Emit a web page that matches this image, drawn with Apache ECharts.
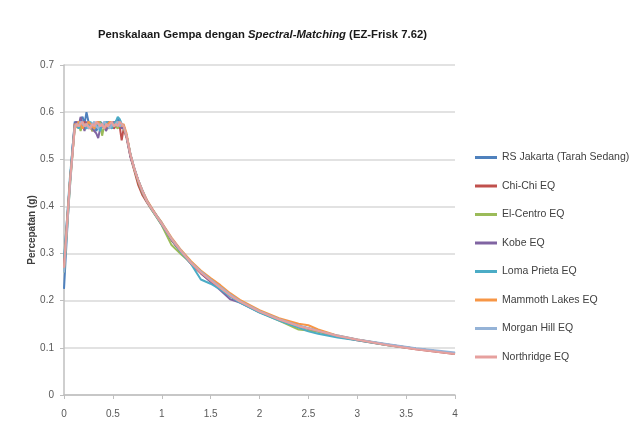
<!DOCTYPE html>
<html>
<head>
<meta charset="utf-8">
<script src="https://cdn.jsdelivr.net/npm/echarts@6/dist/echarts.min.js"></script>
<style>
  html, body { margin: 0; padding: 0; background: #fff; }
  #main { width: 637px; height: 428px; }
</style>
</head>
<body>
<div id="main"></div>
<script>
// periode (detik)
var periods = [0, 0.03, 0.06, 0.09,
  0.11, 0.13, 0.15, 0.17, 0.19, 0.21, 0.23, 0.25, 0.27, 0.29, 0.31, 0.33, 0.35, 0.37, 0.39, 0.41, 0.43, 0.45, 0.47, 0.49, 0.51, 0.53, 0.55, 0.57, 0.59, 0.61,
  0.64, 0.68, 0.72, 0.76, 0.8, 0.85, 0.9, 0.95, 1.0, 1.1, 1.2, 1.3, 1.4, 1.5, 1.6, 1.7, 1.8,
  2.0, 2.2, 2.4, 2.5, 2.6, 2.8, 3.0, 3.3, 3.6, 4.0];

var seriesNames = ['RS Jakarta (Tarah Sedang)', 'Chi-Chi EQ', 'El-Centro EQ', 'Kobe EQ',
  'Loma Prieta EQ', 'Mammoth Lakes EQ', 'Morgan Hill EQ', 'Northridge EQ'];

var rsJakarta = [0.225, 0.34, 0.45, 0.53,
  0.58, 0.575, 0.57, 0.585, 0.59, 0.575, 0.60, 0.58, 0.565, 0.57, 0.575, 0.56, 0.57, 0.58, 0.575, 0.565, 0.57, 0.58, 0.575, 0.57, 0.575, 0.58, 0.585, 0.58, 0.575, 0.57,
  0.55, 0.51, 0.48, 0.455, 0.435, 0.41, 0.395, 0.38, 0.365, 0.33, 0.302, 0.28, 0.26, 0.243, 0.227, 0.211, 0.198,
  0.177, 0.161, 0.147, 0.141, 0.136, 0.125, 0.117, 0.107, 0.098, 0.088];

var chiChi = [0.27, 0.36, 0.45, 0.52,
  0.57, 0.58, 0.565, 0.575, 0.57, 0.58, 0.575, 0.565, 0.57, 0.56, 0.575, 0.57, 0.58, 0.565, 0.57, 0.575, 0.565, 0.57, 0.58, 0.575, 0.565, 0.57, 0.575, 0.57, 0.54, 0.565,
  0.545, 0.505, 0.475, 0.445, 0.425, 0.408, 0.392, 0.378, 0.362, 0.328, 0.302, 0.278, 0.258, 0.241, 0.226, 0.21, 0.197,
  0.176, 0.16, 0.146, 0.141, 0.135, 0.124, 0.116, 0.106, 0.097, 0.087];

var elCentro = [0.26, 0.35, 0.44, 0.52,
  0.565, 0.57, 0.575, 0.56, 0.575, 0.57, 0.565, 0.58, 0.575, 0.56, 0.565, 0.575, 0.57, 0.58, 0.55, 0.57, 0.575, 0.565, 0.57, 0.58, 0.575, 0.57, 0.565, 0.575, 0.57, 0.565,
  0.55, 0.51, 0.478, 0.452, 0.43, 0.41, 0.392, 0.376, 0.36, 0.318, 0.298, 0.28, 0.262, 0.244, 0.228, 0.212, 0.199,
  0.176, 0.158, 0.139, 0.137, 0.134, 0.124, 0.117, 0.106, 0.098, 0.088];

var kobe = [0.28, 0.37, 0.45, 0.53,
  0.575, 0.58, 0.57, 0.59, 0.575, 0.56, 0.58, 0.57, 0.575, 0.565, 0.56, 0.555, 0.545, 0.565, 0.57, 0.575, 0.56, 0.57, 0.575, 0.565, 0.58, 0.575, 0.57, 0.575, 0.565, 0.57,
  0.55, 0.505, 0.48, 0.455, 0.432, 0.412, 0.395, 0.378, 0.362, 0.33, 0.303, 0.279, 0.259, 0.24, 0.222, 0.203, 0.196,
  0.176, 0.16, 0.146, 0.141, 0.136, 0.125, 0.117, 0.107, 0.098, 0.088];

var lomaPrieta = [0.29, 0.37, 0.46, 0.53,
  0.57, 0.575, 0.565, 0.58, 0.57, 0.575, 0.565, 0.57, 0.58, 0.57, 0.565, 0.575, 0.57, 0.56, 0.575, 0.57, 0.58, 0.575, 0.57, 0.565, 0.575, 0.58, 0.59, 0.585, 0.575, 0.57,
  0.55, 0.51, 0.48, 0.455, 0.433, 0.41, 0.393, 0.377, 0.362, 0.33, 0.302, 0.278, 0.245, 0.236, 0.224, 0.209, 0.196,
  0.175, 0.158, 0.143, 0.135, 0.13, 0.122, 0.116, 0.106, 0.098, 0.088];

var mammothLakes = [0.27, 0.36, 0.45, 0.52,
  0.575, 0.57, 0.58, 0.575, 0.565, 0.575, 0.57, 0.58, 0.575, 0.57, 0.565, 0.575, 0.58, 0.57, 0.575, 0.565, 0.57, 0.575, 0.58, 0.575, 0.57, 0.575, 0.58, 0.575, 0.57, 0.575,
  0.555, 0.51, 0.48, 0.455, 0.435, 0.413, 0.396, 0.38, 0.366, 0.334, 0.307, 0.284, 0.264, 0.248, 0.233, 0.216, 0.202,
  0.18, 0.163, 0.151, 0.148, 0.139, 0.126, 0.118, 0.107, 0.098, 0.088];

var morganHill = [0.26, 0.35, 0.44, 0.52,
  0.57, 0.575, 0.57, 0.58, 0.575, 0.57, 0.575, 0.565, 0.57, 0.575, 0.58, 0.57, 0.565, 0.575, 0.57, 0.58, 0.575, 0.57, 0.565, 0.575, 0.57, 0.575, 0.58, 0.57, 0.575, 0.57,
  0.55, 0.51, 0.48, 0.455, 0.434, 0.411, 0.394, 0.379, 0.364, 0.332, 0.305, 0.281, 0.262, 0.245, 0.229, 0.213, 0.199,
  0.178, 0.161, 0.147, 0.142, 0.136, 0.126, 0.118, 0.108, 0.099, 0.09];

var northridge = [0.27, 0.36, 0.45, 0.52,
  0.565, 0.575, 0.57, 0.575, 0.58, 0.57, 0.575, 0.57, 0.565, 0.575, 0.57, 0.58, 0.575, 0.57, 0.575, 0.565, 0.575, 0.57, 0.575, 0.58, 0.57, 0.575, 0.57, 0.58, 0.575, 0.57,
  0.55, 0.51, 0.48, 0.455, 0.433, 0.41, 0.394, 0.378, 0.363, 0.331, 0.304, 0.28, 0.26, 0.243, 0.227, 0.211, 0.198,
  0.177, 0.16, 0.146, 0.141, 0.136, 0.125, 0.117, 0.106, 0.097, 0.087];

var allValues = [rsJakarta, chiChi, elCentro, kobe, lomaPrieta, mammothLakes, morganHill, northridge];
var colors = ['#4F81BD', '#C0504D', '#9BBB59', '#8064A2', '#4BACC6', '#F79646', '#95B3D7', '#E6A09E'];

var xTicks = [0, 0.5, 1, 1.5, 2, 2.5, 3, 3.5, 4];
var yTicks = [0, 0.1, 0.2, 0.3, 0.4, 0.5, 0.6, 0.7];

var myChart = echarts.init(document.getElementById('main'));

var series = [];
for (var i = 0; i < seriesNames.length; i++) {
    var pts = [];
    for (var j = 0; j < periods.length; j++) {
        pts.push([periods[j], allValues[i][j]]);
    }
    series.push({
        name: seriesNames[i],
        type: 'line',
        data: pts,
        symbol: 'none',
        lineStyle: { width: 2, color: colors[i] },
        itemStyle: { color: colors[i] },
        animation: false
    });
}

var option = {
    backgroundColor: '#fff',
    title: {
        text: '{b|Penskalaan Gempa dengan }{i|Spectral-Matching}{b| (EZ-Frisk 7.62)}',
        left: 93,
        top: 24,
        textStyle: {
            rich: {
                b: { fontFamily: 'Liberation Sans', fontWeight: 'bold', fontSize: 11.3, color: '#1a1a1a' },
                i: { fontFamily: 'Liberation Sans', fontWeight: 'bold', fontStyle: 'italic', fontSize: 11.3, color: '#1a1a1a' }
            }
        }
    },
    legend: {
        orient: 'vertical',
        left: 475,
        top: 152,
        padding: 0,
        icon: 'rect',
        itemWidth: 22,
        itemHeight: 3,
        itemGap: 17.5,
        textStyle: { fontFamily: 'Liberation Sans', fontSize: 10.5, color: '#404040' },
        data: seriesNames
    },
    grid: { left: 64, right: 182, top: 65, bottom: 33 },
    xAxis: {
        type: 'value',
        min: xTicks[0],
        max: xTicks[xTicks.length - 1],
        interval: 0.5,
        axisLine: { lineStyle: { color: '#bfbfbf', width: 1.5 } },
        axisTick: { show: true, length: 4, lineStyle: { color: '#bfbfbf' } },
        axisLabel: { fontFamily: 'Liberation Sans', fontSize: 10, color: '#595959', margin: 14 },
        splitLine: { show: false }
    },
    yAxis: {
        type: 'value',
        min: yTicks[0],
        max: yTicks[yTicks.length - 1],
        interval: 0.1,
        name: 'Percepatan (g)',
        nameLocation: 'middle',
        nameGap: 27,
        nameMoveOverlap: false,
        nameTextStyle: { fontFamily: 'Liberation Sans', fontWeight: 'bold', fontSize: 10, color: '#404040' },
        axisLine: { show: true, lineStyle: { color: '#bfbfbf', width: 1.5 } },
        axisTick: { show: true, length: 4, lineStyle: { color: '#bfbfbf' } },
        axisLabel: { fontFamily: 'Liberation Sans', fontSize: 10, color: '#595959', margin: 10 },
        splitLine: { lineStyle: { color: '#d9d9d9', width: 1.5 } }
    },
    series: series
};

myChart.setOption(option);
</script>
</body>
</html>
